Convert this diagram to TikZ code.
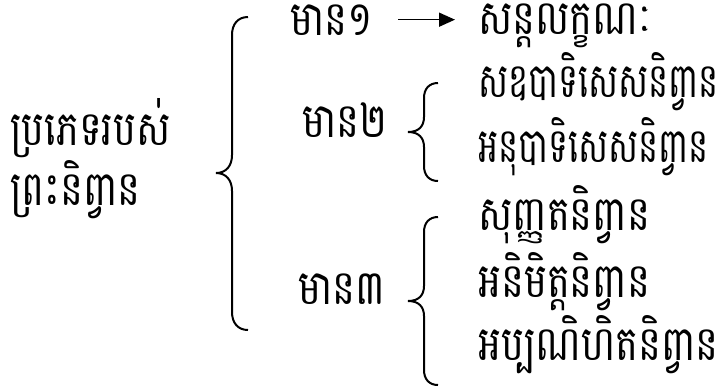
\documentclass[tikz,border=0pt]{standalone}
\usepackage{fontspec}
\newfontfamily\khmer[Script=Khmer,FakeStretch=0.8]{Battambang}
\newfontfamily\khmertight[Script=Khmer,FakeStretch=0.7]{Battambang}
\usetikzlibrary{arrows.meta,positioning}
% braces, in pixel units
\def \BigB{(248,17) .. controls (238,17) and (232,24) .. (232,35) -- (232,155) .. controls (232,166) and (226,173) .. (216,173) .. controls (226,173) and (232,180) .. (232,191) -- (232,312) .. controls (232,323) and (238,330) .. (248,330)}
\def \TwoB{(438,83) .. controls (429,83) and (424,89) .. (424,98) -- (424,117) .. controls (424,126) and (419,132) .. (408,132) .. controls (419,132) and (424,138) .. (424,147) -- (424,166) .. controls (424,175) and (429,181) .. (438,181)}
\def \ThreeB{(438,217) .. controls (429,217) and (424,223) .. (424,232) -- (424,286) .. controls (424,295) and (419,301) .. (408,301) .. controls (419,301) and (424,307) .. (424,316) -- (424,370) .. controls (424,379) and (429,385) .. (438,385)}

\begin{document}
\begin{tikzpicture}[x=0.5pt,y=-0.5pt,
  lbl/.style={font=\khmer\fontsize{24}{28}\selectfont, inner sep=0pt, anchor=base west},
  tight/.style={lbl, font=\khmertight\fontsize{24}{28}\selectfont},
  conn/.style={-{Triangle[length=8pt,width=7pt]}, line width=0.75pt, shorten <=12.5pt, shorten >=11.5pt},
  brc/.style={line width=1pt}]
\useasboundingbox (0,0) rectangle (727,387);
\node[lbl] (kind1) at (10,145) {ប្រភេទរបស់};
\node[lbl] (kind2) at (10,205) {ព្រះនិព្វាន};
\node[lbl] (has1) at (290,35) {មាន១};
\node[lbl] (peace) at (478,34) {សន្តិលក្ខណៈ};
\node[lbl] (has2) at (302,137) {មាន២};
\node[tight] (sa) at (478,97) {សឧបាទិសេសនិព្វាន};
\node[tight] (anu) at (478,162) {អនុបាទិសេសនិព្វាន};
\node[lbl] (has3) at (298,304) {មាន៣};
\node[lbl] (sun) at (478,230) {សុញ្ញតនិព្វាន};
\node[lbl] (ani) at (478,297) {អនិមិត្តនិព្វាន};
\node[lbl] (app) at (478,360) {អប្បណិហិតនិព្វាន};
\draw[conn] (has1.east) -- (has1.east -| peace.west); % to peace
\draw[brc] \BigB; % main
\draw[brc] \TwoB; % two kinds
\draw[brc] \ThreeB; % three kinds
\end{tikzpicture}
\end{document}
